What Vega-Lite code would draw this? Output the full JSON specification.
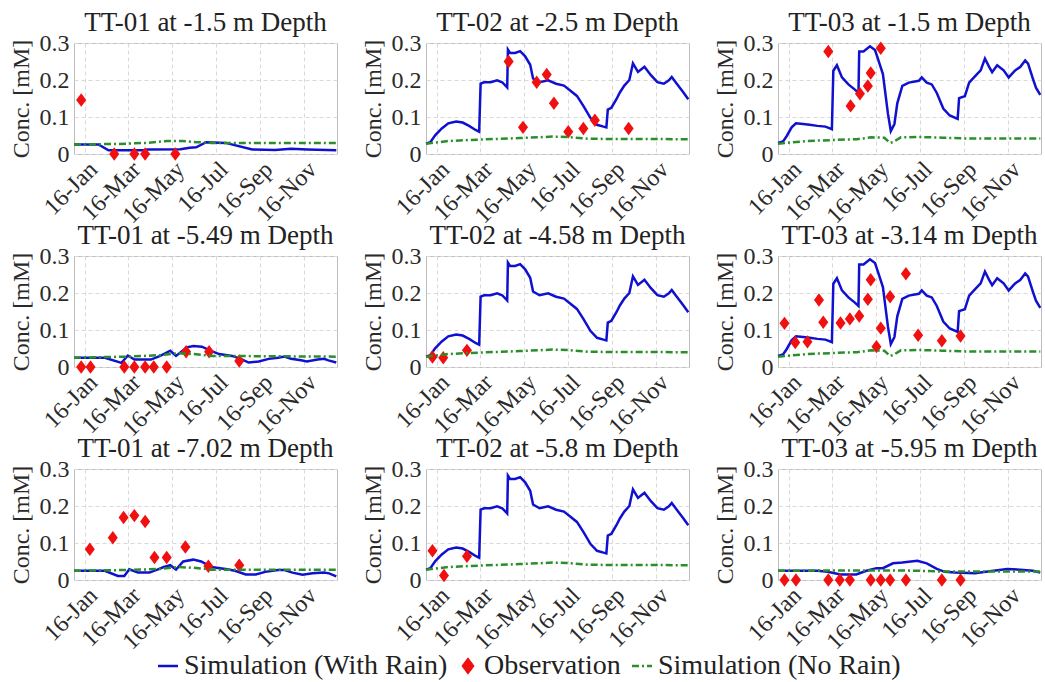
{
  "$schema": "https://vega.github.io/schema/vega-lite/v6.json",
  "padding": {"left": 8, "top": 8, "right": 0, "bottom": 0},
  "datasets": {
    "lines": [
      {"c":"A","s":"w","d":"2016-01-01","v":0.026},{"c":"A","s":"w","d":"2016-02-04","v":0.026},{"c":"A","s":"w","d":"2016-02-18","v":0.010},{"c":"A","s":"w","d":"2016-04-08","v":0.010},{"c":"A","s":"w","d":"2016-04-12","v":0.012},{"c":"A","s":"w","d":"2016-05-28","v":0.013},{"c":"A","s":"w","d":"2016-06-10","v":0.017},{"c":"A","s":"w","d":"2016-06-19","v":0.018},{"c":"A","s":"w","d":"2016-07-03","v":0.032},{"c":"A","s":"w","d":"2016-07-30","v":0.030},{"c":"A","s":"w","d":"2016-09-05","v":0.012},{"c":"A","s":"w","d":"2016-10-07","v":0.011},{"c":"A","s":"w","d":"2016-10-29","v":0.014},{"c":"A","s":"w","d":"2016-11-21","v":0.012},{"c":"A","s":"w","d":"2016-12-31","v":0.010},
      {"c":"A","s":"n","d":"2016-01-01","v":0.026},{"c":"A","s":"n","d":"2016-03-01","v":0.027},{"c":"A","s":"n","d":"2016-04-10","v":0.030},{"c":"A","s":"n","d":"2016-05-10","v":0.035},{"c":"A","s":"n","d":"2016-05-30","v":0.035},{"c":"A","s":"n","d":"2016-06-20","v":0.032},{"c":"A","s":"n","d":"2016-07-10","v":0.030},{"c":"A","s":"n","d":"2016-12-31","v":0.030},
      {"c":"B","s":"w","d":"2016-01-01","v":0.028},{"c":"B","s":"w","d":"2016-01-07","v":0.032},{"c":"B","s":"w","d":"2016-01-14","v":0.051},{"c":"B","s":"w","d":"2016-01-23","v":0.069},{"c":"B","s":"w","d":"2016-02-01","v":0.083},{"c":"B","s":"w","d":"2016-02-12","v":0.088},{"c":"B","s":"w","d":"2016-02-21","v":0.085},{"c":"B","s":"w","d":"2016-03-01","v":0.076},{"c":"B","s":"w","d":"2016-03-10","v":0.065},{"c":"B","s":"w","d":"2016-03-15","v":0.060},{"c":"B","s":"w","d":"2016-03-17","v":0.190},{"c":"B","s":"w","d":"2016-03-22","v":0.194},{"c":"B","s":"w","d":"2016-03-31","v":0.194},{"c":"B","s":"w","d":"2016-04-09","v":0.199},{"c":"B","s":"w","d":"2016-04-16","v":0.194},{"c":"B","s":"w","d":"2016-04-23","v":0.180},{"c":"B","s":"w","d":"2016-04-24","v":0.282},{"c":"B","s":"w","d":"2016-04-27","v":0.273},{"c":"B","s":"w","d":"2016-05-04","v":0.273},{"c":"B","s":"w","d":"2016-05-11","v":0.278},{"c":"B","s":"w","d":"2016-05-18","v":0.264},{"c":"B","s":"w","d":"2016-05-25","v":0.241},{"c":"B","s":"w","d":"2016-05-29","v":0.204},{"c":"B","s":"w","d":"2016-06-07","v":0.194},{"c":"B","s":"w","d":"2016-06-19","v":0.199},{"c":"B","s":"w","d":"2016-06-30","v":0.190},{"c":"B","s":"w","d":"2016-07-11","v":0.185},{"c":"B","s":"w","d":"2016-07-20","v":0.171},{"c":"B","s":"w","d":"2016-07-29","v":0.157},{"c":"B","s":"w","d":"2016-08-07","v":0.130},{"c":"B","s":"w","d":"2016-08-17","v":0.097},{"c":"B","s":"w","d":"2016-08-26","v":0.079},{"c":"B","s":"w","d":"2016-09-04","v":0.074},{"c":"B","s":"w","d":"2016-09-08","v":0.072},{"c":"B","s":"w","d":"2016-09-10","v":0.120},{"c":"B","s":"w","d":"2016-09-15","v":0.125},{"c":"B","s":"w","d":"2016-09-22","v":0.148},{"c":"B","s":"w","d":"2016-09-27","v":0.167},{"c":"B","s":"w","d":"2016-10-03","v":0.185},{"c":"B","s":"w","d":"2016-10-10","v":0.200},{"c":"B","s":"w","d":"2016-10-15","v":0.245},{"c":"B","s":"w","d":"2016-10-22","v":0.222},{"c":"B","s":"w","d":"2016-10-31","v":0.236},{"c":"B","s":"w","d":"2016-11-09","v":0.213},{"c":"B","s":"w","d":"2016-11-18","v":0.194},{"c":"B","s":"w","d":"2016-11-27","v":0.190},{"c":"B","s":"w","d":"2016-12-04","v":0.199},{"c":"B","s":"w","d":"2016-12-08","v":0.208},{"c":"B","s":"w","d":"2016-12-15","v":0.190},{"c":"B","s":"w","d":"2016-12-24","v":0.167},{"c":"B","s":"w","d":"2016-12-31","v":0.148},
      {"c":"B","s":"n","d":"2016-01-01","v":0.028},{"c":"B","s":"n","d":"2016-02-01","v":0.035},{"c":"B","s":"n","d":"2016-03-15","v":0.039},{"c":"B","s":"n","d":"2016-05-10","v":0.043},{"c":"B","s":"n","d":"2016-06-25","v":0.047},{"c":"B","s":"n","d":"2016-07-15","v":0.046},{"c":"B","s":"n","d":"2016-08-15","v":0.041},{"c":"B","s":"n","d":"2016-12-31","v":0.040},
      {"c":"C","s":"w","d":"2016-01-01","v":0.030},{"c":"C","s":"w","d":"2016-01-08","v":0.034},{"c":"C","s":"w","d":"2016-01-13","v":0.048},{"c":"C","s":"w","d":"2016-01-20","v":0.072},{"c":"C","s":"w","d":"2016-01-26","v":0.083},{"c":"C","s":"w","d":"2016-02-05","v":0.081},{"c":"C","s":"w","d":"2016-02-14","v":0.079},{"c":"C","s":"w","d":"2016-02-25","v":0.076},{"c":"C","s":"w","d":"2016-03-07","v":0.074},{"c":"C","s":"w","d":"2016-03-16","v":0.067},{"c":"C","s":"w","d":"2016-03-18","v":0.225},{"c":"C","s":"w","d":"2016-03-23","v":0.240},{"c":"C","s":"w","d":"2016-03-30","v":0.207},{"c":"C","s":"w","d":"2016-04-08","v":0.188},{"c":"C","s":"w","d":"2016-04-17","v":0.174},{"c":"C","s":"w","d":"2016-04-22","v":0.165},{"c":"C","s":"w","d":"2016-04-23","v":0.277},{"c":"C","s":"w","d":"2016-04-29","v":0.277},{"c":"C","s":"w","d":"2016-05-08","v":0.291},{"c":"C","s":"w","d":"2016-05-15","v":0.281},{"c":"C","s":"w","d":"2016-05-19","v":0.258},{"c":"C","s":"w","d":"2016-05-26","v":0.216},{"c":"C","s":"w","d":"2016-06-02","v":0.109},{"c":"C","s":"w","d":"2016-06-06","v":0.062},{"c":"C","s":"w","d":"2016-06-11","v":0.081},{"c":"C","s":"w","d":"2016-06-15","v":0.137},{"c":"C","s":"w","d":"2016-06-22","v":0.184},{"c":"C","s":"w","d":"2016-07-01","v":0.193},{"c":"C","s":"w","d":"2016-07-15","v":0.198},{"c":"C","s":"w","d":"2016-07-19","v":0.207},{"c":"C","s":"w","d":"2016-07-26","v":0.193},{"c":"C","s":"w","d":"2016-08-02","v":0.188},{"c":"C","s":"w","d":"2016-08-09","v":0.165},{"c":"C","s":"w","d":"2016-08-18","v":0.123},{"c":"C","s":"w","d":"2016-08-27","v":0.104},{"c":"C","s":"w","d":"2016-09-07","v":0.095},{"c":"C","s":"w","d":"2016-09-09","v":0.151},{"c":"C","s":"w","d":"2016-09-17","v":0.156},{"c":"C","s":"w","d":"2016-09-23","v":0.193},{"c":"C","s":"w","d":"2016-10-02","v":0.212},{"c":"C","s":"w","d":"2016-10-09","v":0.226},{"c":"C","s":"w","d":"2016-10-15","v":0.258},{"c":"C","s":"w","d":"2016-10-21","v":0.235},{"c":"C","s":"w","d":"2016-10-25","v":0.221},{"c":"C","s":"w","d":"2016-11-01","v":0.240},{"c":"C","s":"w","d":"2016-11-10","v":0.226},{"c":"C","s":"w","d":"2016-11-17","v":0.207},{"c":"C","s":"w","d":"2016-11-26","v":0.226},{"c":"C","s":"w","d":"2016-12-03","v":0.235},{"c":"C","s":"w","d":"2016-12-10","v":0.253},{"c":"C","s":"w","d":"2016-12-14","v":0.244},{"c":"C","s":"w","d":"2016-12-21","v":0.202},{"c":"C","s":"w","d":"2016-12-25","v":0.179},{"c":"C","s":"w","d":"2016-12-31","v":0.160},
      {"c":"C","s":"n","d":"2016-01-01","v":0.028},{"c":"C","s":"n","d":"2016-02-10","v":0.035},{"c":"C","s":"n","d":"2016-03-20","v":0.038},{"c":"C","s":"n","d":"2016-04-20","v":0.040},{"c":"C","s":"n","d":"2016-05-10","v":0.045},{"c":"C","s":"n","d":"2016-05-28","v":0.044},{"c":"C","s":"n","d":"2016-06-05","v":0.030},{"c":"C","s":"n","d":"2016-06-10","v":0.033},{"c":"C","s":"n","d":"2016-06-20","v":0.045},{"c":"C","s":"n","d":"2016-07-15","v":0.046},{"c":"C","s":"n","d":"2016-08-17","v":0.044},{"c":"C","s":"n","d":"2016-09-17","v":0.042},{"c":"C","s":"n","d":"2016-12-31","v":0.042},
      {"c":"D","s":"w","d":"2016-01-01","v":0.025},{"c":"D","s":"w","d":"2016-02-13","v":0.025},{"c":"D","s":"w","d":"2016-03-07","v":0.011},{"c":"D","s":"w","d":"2016-03-16","v":0.031},{"c":"D","s":"w","d":"2016-03-25","v":0.020},{"c":"D","s":"w","d":"2016-04-17","v":0.020},{"c":"D","s":"w","d":"2016-04-30","v":0.030},{"c":"D","s":"w","d":"2016-05-14","v":0.044},{"c":"D","s":"w","d":"2016-05-22","v":0.030},{"c":"D","s":"w","d":"2016-06-06","v":0.053},{"c":"D","s":"w","d":"2016-06-15","v":0.057},{"c":"D","s":"w","d":"2016-06-27","v":0.055},{"c":"D","s":"w","d":"2016-07-08","v":0.045},{"c":"D","s":"w","d":"2016-07-21","v":0.035},{"c":"D","s":"w","d":"2016-08-08","v":0.030},{"c":"D","s":"w","d":"2016-08-20","v":0.022},{"c":"D","s":"w","d":"2016-08-31","v":0.012},{"c":"D","s":"w","d":"2016-09-14","v":0.015},{"c":"D","s":"w","d":"2016-09-28","v":0.022},{"c":"D","s":"w","d":"2016-10-11","v":0.025},{"c":"D","s":"w","d":"2016-10-20","v":0.028},{"c":"D","s":"w","d":"2016-10-29","v":0.022},{"c":"D","s":"w","d":"2016-11-12","v":0.018},{"c":"D","s":"w","d":"2016-11-20","v":0.015},{"c":"D","s":"w","d":"2016-12-05","v":0.020},{"c":"D","s":"w","d":"2016-12-14","v":0.022},{"c":"D","s":"w","d":"2016-12-20","v":0.018},{"c":"D","s":"w","d":"2016-12-31","v":0.012},
      {"c":"D","s":"n","d":"2016-01-01","v":0.025},{"c":"D","s":"n","d":"2016-03-15","v":0.028},{"c":"D","s":"n","d":"2016-04-30","v":0.032},{"c":"D","s":"n","d":"2016-05-25","v":0.037},{"c":"D","s":"n","d":"2016-06-15","v":0.035},{"c":"D","s":"n","d":"2016-07-10","v":0.030},{"c":"D","s":"n","d":"2016-12-31","v":0.028},
      {"c":"G","s":"w","d":"2016-01-01","v":0.025},{"c":"G","s":"w","d":"2016-02-13","v":0.025},{"c":"G","s":"w","d":"2016-03-02","v":0.011},{"c":"G","s":"w","d":"2016-03-11","v":0.011},{"c":"G","s":"w","d":"2016-03-18","v":0.029},{"c":"G","s":"w","d":"2016-03-30","v":0.020},{"c":"G","s":"w","d":"2016-04-15","v":0.020},{"c":"G","s":"w","d":"2016-04-26","v":0.028},{"c":"G","s":"w","d":"2016-05-05","v":0.035},{"c":"G","s":"w","d":"2016-05-14","v":0.040},{"c":"G","s":"w","d":"2016-05-22","v":0.028},{"c":"G","s":"w","d":"2016-06-01","v":0.050},{"c":"G","s":"w","d":"2016-06-15","v":0.055},{"c":"G","s":"w","d":"2016-06-26","v":0.050},{"c":"G","s":"w","d":"2016-07-10","v":0.035},{"c":"G","s":"w","d":"2016-07-30","v":0.030},{"c":"G","s":"w","d":"2016-08-12","v":0.025},{"c":"G","s":"w","d":"2016-08-27","v":0.015},{"c":"G","s":"w","d":"2016-09-10","v":0.015},{"c":"G","s":"w","d":"2016-09-23","v":0.022},{"c":"G","s":"w","d":"2016-10-11","v":0.027},{"c":"G","s":"w","d":"2016-10-20","v":0.027},{"c":"G","s":"w","d":"2016-10-31","v":0.020},{"c":"G","s":"w","d":"2016-11-14","v":0.014},{"c":"G","s":"w","d":"2016-11-28","v":0.018},{"c":"G","s":"w","d":"2016-12-14","v":0.020},{"c":"G","s":"w","d":"2016-12-21","v":0.018},{"c":"G","s":"w","d":"2016-12-31","v":0.010},
      {"c":"G","s":"n","d":"2016-01-01","v":0.025},{"c":"G","s":"n","d":"2016-03-15","v":0.027},{"c":"G","s":"n","d":"2016-05-01","v":0.030},{"c":"G","s":"n","d":"2016-05-25","v":0.035},{"c":"G","s":"n","d":"2016-06-15","v":0.033},{"c":"G","s":"n","d":"2016-07-10","v":0.028},{"c":"G","s":"n","d":"2016-12-31","v":0.028},
      {"c":"I","s":"w","d":"2016-01-01","v":0.025},{"c":"I","s":"w","d":"2016-02-25","v":0.025},{"c":"I","s":"w","d":"2016-03-10","v":0.022},{"c":"I","s":"w","d":"2016-03-28","v":0.015},{"c":"I","s":"w","d":"2016-04-19","v":0.015},{"c":"I","s":"w","d":"2016-05-03","v":0.025},{"c":"I","s":"w","d":"2016-05-17","v":0.032},{"c":"I","s":"w","d":"2016-05-26","v":0.032},{"c":"I","s":"w","d":"2016-06-09","v":0.045},{"c":"I","s":"w","d":"2016-06-22","v":0.047},{"c":"I","s":"w","d":"2016-07-13","v":0.052},{"c":"I","s":"w","d":"2016-07-26","v":0.045},{"c":"I","s":"w","d":"2016-08-09","v":0.030},{"c":"I","s":"w","d":"2016-08-20","v":0.022},{"c":"I","s":"w","d":"2016-09-03","v":0.020},{"c":"I","s":"w","d":"2016-10-01","v":0.018},{"c":"I","s":"w","d":"2016-10-27","v":0.025},{"c":"I","s":"w","d":"2016-11-15","v":0.030},{"c":"I","s":"w","d":"2016-12-03","v":0.028},{"c":"I","s":"w","d":"2016-12-21","v":0.025},{"c":"I","s":"w","d":"2016-12-31","v":0.020},
      {"c":"I","s":"n","d":"2016-01-01","v":0.025},{"c":"I","s":"n","d":"2016-06-01","v":0.026},{"c":"I","s":"n","d":"2016-07-15","v":0.025},{"c":"I","s":"n","d":"2016-08-15","v":0.023},{"c":"I","s":"n","d":"2016-12-31","v":0.023}
    ],
    "obs": [
      {"p":1,"d":"2016-01-11","v":0.146},{"p":1,"d":"2016-02-26","v":0},{"p":1,"d":"2016-03-25","v":0},{"p":1,"d":"2016-04-09","v":0},{"p":1,"d":"2016-05-21","v":0},
      {"p":2,"d":"2016-04-25","v":0.250},{"p":2,"d":"2016-05-15","v":0.072},{"p":2,"d":"2016-06-03","v":0.194},{"p":2,"d":"2016-06-17","v":0.215},{"p":2,"d":"2016-06-27","v":0.137},{"p":2,"d":"2016-07-17","v":0.060},{"p":2,"d":"2016-08-07","v":0.069},{"p":2,"d":"2016-08-23","v":0.091},{"p":2,"d":"2016-10-09","v":0.069},
      {"p":3,"d":"2016-03-11","v":0.277},{"p":3,"d":"2016-04-11","v":0.130},{"p":3,"d":"2016-04-24","v":0.163},{"p":3,"d":"2016-05-05","v":0.184},{"p":3,"d":"2016-05-09","v":0.219},{"p":3,"d":"2016-05-23","v":0.286},
      {"p":4,"d":"2016-01-11","v":0},{"p":4,"d":"2016-01-24","v":0},{"p":4,"d":"2016-03-11","v":0},{"p":4,"d":"2016-03-25","v":0},{"p":4,"d":"2016-04-09","v":0},{"p":4,"d":"2016-04-21","v":0},{"p":4,"d":"2016-05-09","v":0},{"p":4,"d":"2016-06-05","v":0.041},{"p":4,"d":"2016-07-07","v":0.041},{"p":4,"d":"2016-08-18","v":0.016},
      {"p":5,"d":"2016-01-10","v":0.027},{"p":5,"d":"2016-01-25","v":0.025},{"p":5,"d":"2016-02-27","v":0.045},
      {"p":6,"d":"2016-01-10","v":0.118},{"p":6,"d":"2016-01-25","v":0.066},{"p":6,"d":"2016-02-11","v":0.068},{"p":6,"d":"2016-02-27","v":0.181},{"p":6,"d":"2016-03-04","v":0.121},{"p":6,"d":"2016-03-28","v":0.119},{"p":6,"d":"2016-04-10","v":0.130},{"p":6,"d":"2016-04-23","v":0.138},{"p":6,"d":"2016-05-05","v":0.183},{"p":6,"d":"2016-05-09","v":0.236},{"p":6,"d":"2016-05-17","v":0.055},{"p":6,"d":"2016-05-23","v":0.105},{"p":6,"d":"2016-06-05","v":0.190},{"p":6,"d":"2016-06-27","v":0.252},{"p":6,"d":"2016-07-14","v":0.086},{"p":6,"d":"2016-08-16","v":0.071},{"p":6,"d":"2016-09-11","v":0.084},
      {"p":7,"d":"2016-01-23","v":0.083},{"p":7,"d":"2016-02-24","v":0.114},{"p":7,"d":"2016-03-10","v":0.169},{"p":7,"d":"2016-03-25","v":0.174},{"p":7,"d":"2016-04-09","v":0.158},{"p":7,"d":"2016-04-22","v":0.061},{"p":7,"d":"2016-05-09","v":0.061},{"p":7,"d":"2016-06-04","v":0.089},{"p":7,"d":"2016-07-06","v":0.037},{"p":7,"d":"2016-08-18","v":0.040},
      {"p":8,"d":"2016-01-10","v":0.079},{"p":8,"d":"2016-01-26","v":0.012},{"p":8,"d":"2016-02-27","v":0.064},
      {"p":9,"d":"2016-01-10","v":0},{"p":9,"d":"2016-01-26","v":0},{"p":9,"d":"2016-03-11","v":0},{"p":9,"d":"2016-03-27","v":0},{"p":9,"d":"2016-04-10","v":0},{"p":9,"d":"2016-05-09","v":0},{"p":9,"d":"2016-05-23","v":0},{"p":9,"d":"2016-06-05","v":0},{"p":9,"d":"2016-06-27","v":0},{"p":9,"d":"2016-08-16","v":0},{"p":9,"d":"2016-09-11","v":0}
    ]
  },
  "columns": 3,
  "spacing": {"row": 102, "column": 89},
  "bounds": "flush",
  "resolve": {"scale": {"color": "shared"}, "legend": {"color": "shared"}},
  "concat": [
    {"title": "TT-01 at -1.5 m Depth", "width": 263, "height": 111,
     "encoding": {
       "x": {"field": "d", "type": "temporal", "scale": {"domain": [{"year": 2016, "month": 1, "date": 1}, {"year": 2017, "month": 1, "date": 1}]}, "axis": {"title": null, "format": "%d-%b", "values": [{"year": 2016, "month": 1, "date": 16}, {"year": 2016, "month": 3, "date": 16}, {"year": 2016, "month": 5, "date": 16}, {"year": 2016, "month": 7, "date": 16}, {"year": 2016, "month": 9, "date": 16}, {"year": 2016, "month": 11, "date": 16}]}},
       "y": {"field": "v", "type": "quantitative", "scale": {"domain": [0, 0.3], "nice": false}, "axis": {"title": "Conc. [mM]", "values": [0, 0.1, 0.2, 0.3], "format": ".1~f"}}
     },
     "layer": [
       {"data": {"name": "lines"}, "transform": [{"filter": "datum.c === 'A' && datum.s === 'w'"}], "mark": {"type": "line", "strokeWidth": 2.5},
        "encoding": {"color": {"field": "s", "type": "nominal", "scale": {"domain": ["w", "o", "n"], "range": ["#1010d0", "#f01010", "#2a8f2a"]},
          "legend": {"title": null, "orient": "bottom", "direction": "horizontal", "offset": -3,
            "labelExpr": "datum.value === 'w' ? 'Simulation (With Rain)' : datum.value === 'o' ? 'Observation' : 'Simulation (No Rain)'",
            "labelFont": "Liberation Serif", "labelFontSize": 28, "labelColor": "#222222", "labelOffset": 2, "labelLimit": 600, "columnPadding": 6, "symbolSize": 400, "symbolStrokeWidth": 2.5,
            "encode": {"symbols": {"update": {
              "shape": {"signal": "datum.value === 'o' ? 'M0,-1L0.75,0L0,1L-0.75,0Z' : 'stroke'"},
              "size": {"signal": "datum.value === 'o' ? 180 : 400"},
              "fill": {"signal": "datum.value === 'o' ? '#f01010' : 'transparent'"},
              "stroke": {"signal": "datum.value === 'w' ? '#1010d0' : datum.value === 'n' ? '#2a8f2a' : 'transparent'"},
              "strokeDash": {"signal": "datum.value === 'n' ? [7, 3, 2, 3] : [1, 0]"},
              "strokeWidth": {"value": 2.5},
              "opacity": {"value": 1}
            }}}}}}},
       {"data": {"name": "obs"}, "transform": [{"filter": "datum.p === 1"}], "mark": {"type": "point", "filled": true, "shape": "M0,-1L0.75,0L0,1L-0.75,0Z", "size": 180, "opacity": 1},
        "encoding": {"color": {"datum": "o", "type": "nominal", "scale": {"domain": ["w", "o", "n"], "range": ["#1010d0", "#f01010", "#2a8f2a"]}}}},
       {"data": {"name": "lines"}, "transform": [{"filter": "datum.c === 'A' && datum.s === 'n'"}], "mark": {"type": "line", "strokeWidth": 2.5, "strokeDash": [7, 3, 2, 3]},
        "encoding": {"color": {"field": "s", "type": "nominal", "scale": {"domain": ["w", "o", "n"], "range": ["#1010d0", "#f01010", "#2a8f2a"]}}}}
     ]},
    {"title": "TT-02 at -2.5 m Depth", "width": 263, "height": 111,
     "encoding": {
       "x": {"field": "d", "type": "temporal", "scale": {"domain": [{"year": 2016, "month": 1, "date": 1}, {"year": 2017, "month": 1, "date": 1}]}, "axis": {"title": null, "format": "%d-%b", "values": [{"year": 2016, "month": 1, "date": 16}, {"year": 2016, "month": 3, "date": 16}, {"year": 2016, "month": 5, "date": 16}, {"year": 2016, "month": 7, "date": 16}, {"year": 2016, "month": 9, "date": 16}, {"year": 2016, "month": 11, "date": 16}]}},
       "y": {"field": "v", "type": "quantitative", "scale": {"domain": [0, 0.3], "nice": false}, "axis": {"title": "Conc. [mM]", "values": [0, 0.1, 0.2, 0.3], "format": ".1~f"}}
     },
     "layer": [
       {"data": {"name": "lines"}, "transform": [{"filter": "datum.c === 'B' && datum.s === 'w'"}], "mark": {"type": "line", "strokeWidth": 2.5},
        "encoding": {"color": {"field": "s", "type": "nominal", "scale": {"domain": ["w", "o", "n"], "range": ["#1010d0", "#f01010", "#2a8f2a"]}}}},
       {"data": {"name": "obs"}, "transform": [{"filter": "datum.p === 2"}], "mark": {"type": "point", "filled": true, "shape": "M0,-1L0.75,0L0,1L-0.75,0Z", "size": 180, "opacity": 1},
        "encoding": {"color": {"datum": "o", "type": "nominal", "scale": {"domain": ["w", "o", "n"], "range": ["#1010d0", "#f01010", "#2a8f2a"]}}}},
       {"data": {"name": "lines"}, "transform": [{"filter": "datum.c === 'B' && datum.s === 'n'"}], "mark": {"type": "line", "strokeWidth": 2.5, "strokeDash": [7, 3, 2, 3]},
        "encoding": {"color": {"field": "s", "type": "nominal", "scale": {"domain": ["w", "o", "n"], "range": ["#1010d0", "#f01010", "#2a8f2a"]}}}}
     ]},
    {"title": "TT-03 at -1.5 m Depth", "width": 263, "height": 111,
     "encoding": {
       "x": {"field": "d", "type": "temporal", "scale": {"domain": [{"year": 2016, "month": 1, "date": 1}, {"year": 2017, "month": 1, "date": 1}]}, "axis": {"title": null, "format": "%d-%b", "values": [{"year": 2016, "month": 1, "date": 16}, {"year": 2016, "month": 3, "date": 16}, {"year": 2016, "month": 5, "date": 16}, {"year": 2016, "month": 7, "date": 16}, {"year": 2016, "month": 9, "date": 16}, {"year": 2016, "month": 11, "date": 16}]}},
       "y": {"field": "v", "type": "quantitative", "scale": {"domain": [0, 0.3], "nice": false}, "axis": {"title": "Conc. [mM]", "values": [0, 0.1, 0.2, 0.3], "format": ".1~f"}}
     },
     "layer": [
       {"data": {"name": "lines"}, "transform": [{"filter": "datum.c === 'C' && datum.s === 'w'"}], "mark": {"type": "line", "strokeWidth": 2.5},
        "encoding": {"color": {"field": "s", "type": "nominal", "scale": {"domain": ["w", "o", "n"], "range": ["#1010d0", "#f01010", "#2a8f2a"]}}}},
       {"data": {"name": "obs"}, "transform": [{"filter": "datum.p === 3"}], "mark": {"type": "point", "filled": true, "shape": "M0,-1L0.75,0L0,1L-0.75,0Z", "size": 180, "opacity": 1},
        "encoding": {"color": {"datum": "o", "type": "nominal", "scale": {"domain": ["w", "o", "n"], "range": ["#1010d0", "#f01010", "#2a8f2a"]}}}},
       {"data": {"name": "lines"}, "transform": [{"filter": "datum.c === 'C' && datum.s === 'n'"}], "mark": {"type": "line", "strokeWidth": 2.5, "strokeDash": [7, 3, 2, 3]},
        "encoding": {"color": {"field": "s", "type": "nominal", "scale": {"domain": ["w", "o", "n"], "range": ["#1010d0", "#f01010", "#2a8f2a"]}}}}
     ]},
    {"title": "TT-01 at -5.49 m Depth", "width": 263, "height": 111,
     "encoding": {
       "x": {"field": "d", "type": "temporal", "scale": {"domain": [{"year": 2016, "month": 1, "date": 1}, {"year": 2017, "month": 1, "date": 1}]}, "axis": {"title": null, "format": "%d-%b", "values": [{"year": 2016, "month": 1, "date": 16}, {"year": 2016, "month": 3, "date": 16}, {"year": 2016, "month": 5, "date": 16}, {"year": 2016, "month": 7, "date": 16}, {"year": 2016, "month": 9, "date": 16}, {"year": 2016, "month": 11, "date": 16}]}},
       "y": {"field": "v", "type": "quantitative", "scale": {"domain": [0, 0.3], "nice": false}, "axis": {"title": "Conc. [mM]", "values": [0, 0.1, 0.2, 0.3], "format": ".1~f"}}
     },
     "layer": [
       {"data": {"name": "lines"}, "transform": [{"filter": "datum.c === 'D' && datum.s === 'w'"}], "mark": {"type": "line", "strokeWidth": 2.5},
        "encoding": {"color": {"field": "s", "type": "nominal", "scale": {"domain": ["w", "o", "n"], "range": ["#1010d0", "#f01010", "#2a8f2a"]}}}},
       {"data": {"name": "obs"}, "transform": [{"filter": "datum.p === 4"}], "mark": {"type": "point", "filled": true, "shape": "M0,-1L0.75,0L0,1L-0.75,0Z", "size": 180, "opacity": 1},
        "encoding": {"color": {"datum": "o", "type": "nominal", "scale": {"domain": ["w", "o", "n"], "range": ["#1010d0", "#f01010", "#2a8f2a"]}}}},
       {"data": {"name": "lines"}, "transform": [{"filter": "datum.c === 'D' && datum.s === 'n'"}], "mark": {"type": "line", "strokeWidth": 2.5, "strokeDash": [7, 3, 2, 3]},
        "encoding": {"color": {"field": "s", "type": "nominal", "scale": {"domain": ["w", "o", "n"], "range": ["#1010d0", "#f01010", "#2a8f2a"]}}}}
     ]},
    {"title": "TT-02 at -4.58 m Depth", "width": 263, "height": 111,
     "encoding": {
       "x": {"field": "d", "type": "temporal", "scale": {"domain": [{"year": 2016, "month": 1, "date": 1}, {"year": 2017, "month": 1, "date": 1}]}, "axis": {"title": null, "format": "%d-%b", "values": [{"year": 2016, "month": 1, "date": 16}, {"year": 2016, "month": 3, "date": 16}, {"year": 2016, "month": 5, "date": 16}, {"year": 2016, "month": 7, "date": 16}, {"year": 2016, "month": 9, "date": 16}, {"year": 2016, "month": 11, "date": 16}]}},
       "y": {"field": "v", "type": "quantitative", "scale": {"domain": [0, 0.3], "nice": false}, "axis": {"title": "Conc. [mM]", "values": [0, 0.1, 0.2, 0.3], "format": ".1~f"}}
     },
     "layer": [
       {"data": {"name": "lines"}, "transform": [{"filter": "datum.c === 'B' && datum.s === 'w'"}], "mark": {"type": "line", "strokeWidth": 2.5},
        "encoding": {"color": {"field": "s", "type": "nominal", "scale": {"domain": ["w", "o", "n"], "range": ["#1010d0", "#f01010", "#2a8f2a"]}}}},
       {"data": {"name": "obs"}, "transform": [{"filter": "datum.p === 5"}], "mark": {"type": "point", "filled": true, "shape": "M0,-1L0.75,0L0,1L-0.75,0Z", "size": 180, "opacity": 1},
        "encoding": {"color": {"datum": "o", "type": "nominal", "scale": {"domain": ["w", "o", "n"], "range": ["#1010d0", "#f01010", "#2a8f2a"]}}}},
       {"data": {"name": "lines"}, "transform": [{"filter": "datum.c === 'B' && datum.s === 'n'"}], "mark": {"type": "line", "strokeWidth": 2.5, "strokeDash": [7, 3, 2, 3]},
        "encoding": {"color": {"field": "s", "type": "nominal", "scale": {"domain": ["w", "o", "n"], "range": ["#1010d0", "#f01010", "#2a8f2a"]}}}}
     ]},
    {"title": "TT-03 at -3.14 m Depth", "width": 263, "height": 111,
     "encoding": {
       "x": {"field": "d", "type": "temporal", "scale": {"domain": [{"year": 2016, "month": 1, "date": 1}, {"year": 2017, "month": 1, "date": 1}]}, "axis": {"title": null, "format": "%d-%b", "values": [{"year": 2016, "month": 1, "date": 16}, {"year": 2016, "month": 3, "date": 16}, {"year": 2016, "month": 5, "date": 16}, {"year": 2016, "month": 7, "date": 16}, {"year": 2016, "month": 9, "date": 16}, {"year": 2016, "month": 11, "date": 16}]}},
       "y": {"field": "v", "type": "quantitative", "scale": {"domain": [0, 0.3], "nice": false}, "axis": {"title": "Conc. [mM]", "values": [0, 0.1, 0.2, 0.3], "format": ".1~f"}}
     },
     "layer": [
       {"data": {"name": "lines"}, "transform": [{"filter": "datum.c === 'C' && datum.s === 'w'"}], "mark": {"type": "line", "strokeWidth": 2.5},
        "encoding": {"color": {"field": "s", "type": "nominal", "scale": {"domain": ["w", "o", "n"], "range": ["#1010d0", "#f01010", "#2a8f2a"]}}}},
       {"data": {"name": "obs"}, "transform": [{"filter": "datum.p === 6"}], "mark": {"type": "point", "filled": true, "shape": "M0,-1L0.75,0L0,1L-0.75,0Z", "size": 180, "opacity": 1},
        "encoding": {"color": {"datum": "o", "type": "nominal", "scale": {"domain": ["w", "o", "n"], "range": ["#1010d0", "#f01010", "#2a8f2a"]}}}},
       {"data": {"name": "lines"}, "transform": [{"filter": "datum.c === 'C' && datum.s === 'n'"}], "mark": {"type": "line", "strokeWidth": 2.5, "strokeDash": [7, 3, 2, 3]},
        "encoding": {"color": {"field": "s", "type": "nominal", "scale": {"domain": ["w", "o", "n"], "range": ["#1010d0", "#f01010", "#2a8f2a"]}}}}
     ]},
    {"title": "TT-01 at -7.02 m Depth", "width": 263, "height": 111,
     "encoding": {
       "x": {"field": "d", "type": "temporal", "scale": {"domain": [{"year": 2016, "month": 1, "date": 1}, {"year": 2017, "month": 1, "date": 1}]}, "axis": {"title": null, "format": "%d-%b", "values": [{"year": 2016, "month": 1, "date": 16}, {"year": 2016, "month": 3, "date": 16}, {"year": 2016, "month": 5, "date": 16}, {"year": 2016, "month": 7, "date": 16}, {"year": 2016, "month": 9, "date": 16}, {"year": 2016, "month": 11, "date": 16}]}},
       "y": {"field": "v", "type": "quantitative", "scale": {"domain": [0, 0.3], "nice": false}, "axis": {"title": "Conc. [mM]", "values": [0, 0.1, 0.2, 0.3], "format": ".1~f"}}
     },
     "layer": [
       {"data": {"name": "lines"}, "transform": [{"filter": "datum.c === 'G' && datum.s === 'w'"}], "mark": {"type": "line", "strokeWidth": 2.5},
        "encoding": {"color": {"field": "s", "type": "nominal", "scale": {"domain": ["w", "o", "n"], "range": ["#1010d0", "#f01010", "#2a8f2a"]}}}},
       {"data": {"name": "obs"}, "transform": [{"filter": "datum.p === 7"}], "mark": {"type": "point", "filled": true, "shape": "M0,-1L0.75,0L0,1L-0.75,0Z", "size": 180, "opacity": 1},
        "encoding": {"color": {"datum": "o", "type": "nominal", "scale": {"domain": ["w", "o", "n"], "range": ["#1010d0", "#f01010", "#2a8f2a"]}}}},
       {"data": {"name": "lines"}, "transform": [{"filter": "datum.c === 'G' && datum.s === 'n'"}], "mark": {"type": "line", "strokeWidth": 2.5, "strokeDash": [7, 3, 2, 3]},
        "encoding": {"color": {"field": "s", "type": "nominal", "scale": {"domain": ["w", "o", "n"], "range": ["#1010d0", "#f01010", "#2a8f2a"]}}}}
     ]},
    {"title": "TT-02 at -5.8 m Depth", "width": 263, "height": 111,
     "encoding": {
       "x": {"field": "d", "type": "temporal", "scale": {"domain": [{"year": 2016, "month": 1, "date": 1}, {"year": 2017, "month": 1, "date": 1}]}, "axis": {"title": null, "format": "%d-%b", "values": [{"year": 2016, "month": 1, "date": 16}, {"year": 2016, "month": 3, "date": 16}, {"year": 2016, "month": 5, "date": 16}, {"year": 2016, "month": 7, "date": 16}, {"year": 2016, "month": 9, "date": 16}, {"year": 2016, "month": 11, "date": 16}]}},
       "y": {"field": "v", "type": "quantitative", "scale": {"domain": [0, 0.3], "nice": false}, "axis": {"title": "Conc. [mM]", "values": [0, 0.1, 0.2, 0.3], "format": ".1~f"}}
     },
     "layer": [
       {"data": {"name": "lines"}, "transform": [{"filter": "datum.c === 'B' && datum.s === 'w'"}], "mark": {"type": "line", "strokeWidth": 2.5},
        "encoding": {"color": {"field": "s", "type": "nominal", "scale": {"domain": ["w", "o", "n"], "range": ["#1010d0", "#f01010", "#2a8f2a"]}}}},
       {"data": {"name": "obs"}, "transform": [{"filter": "datum.p === 8"}], "mark": {"type": "point", "filled": true, "shape": "M0,-1L0.75,0L0,1L-0.75,0Z", "size": 180, "opacity": 1},
        "encoding": {"color": {"datum": "o", "type": "nominal", "scale": {"domain": ["w", "o", "n"], "range": ["#1010d0", "#f01010", "#2a8f2a"]}}}},
       {"data": {"name": "lines"}, "transform": [{"filter": "datum.c === 'B' && datum.s === 'n'"}], "mark": {"type": "line", "strokeWidth": 2.5, "strokeDash": [7, 3, 2, 3]},
        "encoding": {"color": {"field": "s", "type": "nominal", "scale": {"domain": ["w", "o", "n"], "range": ["#1010d0", "#f01010", "#2a8f2a"]}}}}
     ]},
    {"title": "TT-03 at -5.95 m Depth", "width": 263, "height": 111,
     "encoding": {
       "x": {"field": "d", "type": "temporal", "scale": {"domain": [{"year": 2016, "month": 1, "date": 1}, {"year": 2017, "month": 1, "date": 1}]}, "axis": {"title": null, "format": "%d-%b", "values": [{"year": 2016, "month": 1, "date": 16}, {"year": 2016, "month": 3, "date": 16}, {"year": 2016, "month": 5, "date": 16}, {"year": 2016, "month": 7, "date": 16}, {"year": 2016, "month": 9, "date": 16}, {"year": 2016, "month": 11, "date": 16}]}},
       "y": {"field": "v", "type": "quantitative", "scale": {"domain": [0, 0.3], "nice": false}, "axis": {"title": "Conc. [mM]", "values": [0, 0.1, 0.2, 0.3], "format": ".1~f"}}
     },
     "layer": [
       {"data": {"name": "lines"}, "transform": [{"filter": "datum.c === 'I' && datum.s === 'w'"}], "mark": {"type": "line", "strokeWidth": 2.5},
        "encoding": {"color": {"field": "s", "type": "nominal", "scale": {"domain": ["w", "o", "n"], "range": ["#1010d0", "#f01010", "#2a8f2a"]}}}},
       {"data": {"name": "obs"}, "transform": [{"filter": "datum.p === 9"}], "mark": {"type": "point", "filled": true, "shape": "M0,-1L0.75,0L0,1L-0.75,0Z", "size": 180, "opacity": 1},
        "encoding": {"color": {"datum": "o", "type": "nominal", "scale": {"domain": ["w", "o", "n"], "range": ["#1010d0", "#f01010", "#2a8f2a"]}}}},
       {"data": {"name": "lines"}, "transform": [{"filter": "datum.c === 'I' && datum.s === 'n'"}], "mark": {"type": "line", "strokeWidth": 2.5, "strokeDash": [7, 3, 2, 3]},
        "encoding": {"color": {"field": "s", "type": "nominal", "scale": {"domain": ["w", "o", "n"], "range": ["#1010d0", "#f01010", "#2a8f2a"]}}}}
     ]}
  ],
  "config": {
    "font": "Liberation Serif",
    "view": {"stroke": "#bdbdbd", "strokeWidth": 1},
    "axis": {"labelFont": "Liberation Serif", "titleFont": "Liberation Serif", "labelFontSize": 24, "titleFontSize": 24, "titleFontWeight": "normal", "labelColor": "#2a2a2a", "titleColor": "#2a2a2a", "domain": false, "ticks": false, "gridColor": "#d9d9d9", "gridDash": [4, 3], "gridWidth": 1, "labelOverlap": false, "labelFlush": false, "labelBound": false},
    "axisX": {"labelAngle": -45, "labelPadding": 3, "labelAlign": "right", "labelBaseline": "top"},
    "axisY": {"labelPadding": 5, "titlePadding": 6},
    "title": {"font": "Liberation Serif", "fontSize": 27, "fontWeight": "normal", "color": "#222222", "offset": -6, "anchor": "middle"},
    "legend": {"layout": {"bottom": {"anchor": "middle"}}}
  }
}
